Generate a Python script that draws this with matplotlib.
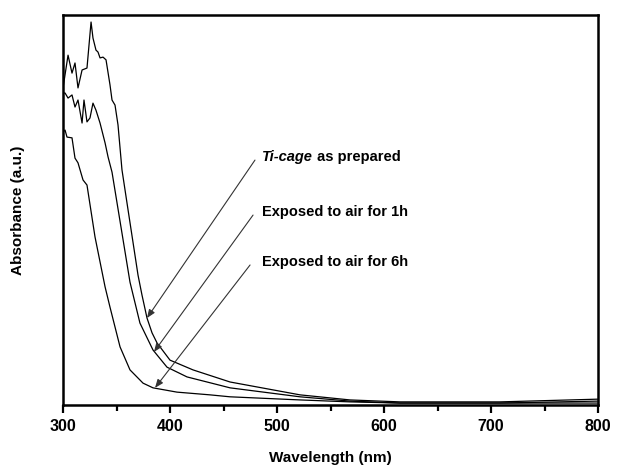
import matplotlib
matplotlib.use("Agg")
import matplotlib.pyplot as plt
from matplotlib.ticker import MultipleLocator

plt.rcParams['font.family'] = ['Liberation Sans', 'DejaVu Sans']
plt.rcParams['font.weight'] = 'bold'

# Ti-cage as prepared
wl_prep = [300.0, 304.7, 308.4, 311.2, 314.0, 317.8, 322.4, 326.2, 328.0, 330.8, 332.7,
           334.6, 337.4, 340.2, 343.9, 345.8, 348.6, 351.4, 355.1, 359.8, 370.1, 373.8,
           378.5, 383.2, 387.9, 400.0, 421.5, 456.1, 521.5, 568.2, 615.0, 708.4, 800.0]
abs_prep = [0.813, 0.897, 0.851, 0.877, 0.813, 0.859, 0.864, 0.982, 0.941, 0.910, 0.905,
            0.890, 0.892, 0.885, 0.821, 0.782, 0.769, 0.718, 0.603, 0.518, 0.333, 0.282,
            0.223, 0.185, 0.159, 0.115, 0.090, 0.059, 0.026, 0.013, 0.008, 0.008, 0.015]

# exposed to air for 1h
wl_1h = [300.0, 301.9, 304.7, 308.4, 311.2, 314.0, 317.8, 319.6, 322.4, 325.2, 328.0,
         330.8, 334.6, 339.3, 342.1, 345.8, 350.5, 362.6, 371.9, 384.1, 397.2, 415.9,
         456.1, 521.5, 568.2, 615.0, 708.4, 800.0]
abs_1h = [0.800, 0.800, 0.787, 0.795, 0.764, 0.782, 0.723, 0.782, 0.726, 0.736, 0.774,
          0.756, 0.723, 0.672, 0.636, 0.597, 0.518, 0.315, 0.210, 0.141, 0.097, 0.072,
          0.044, 0.021, 0.010, 0.005, 0.005, 0.010]

# exposed to air for 6h
wl_6h = [300.0, 301.9, 303.7, 308.4, 311.2, 314.0, 318.7, 322.4, 329.9, 339.3, 343.9,
         353.3, 362.6, 374.8, 384.1, 406.5, 437.4, 456.1, 521.5, 568.2, 615.0, 708.4, 800.0]
abs_6h = [0.700, 0.705, 0.687, 0.685, 0.633, 0.621, 0.577, 0.564, 0.431, 0.303, 0.251,
          0.149, 0.090, 0.056, 0.044, 0.033, 0.026, 0.021, 0.013, 0.008, 0.005, 0.005, 0.005]

fig = plt.figure(figsize=(6.19, 4.66), dpi=100)
ax = fig.add_axes([0.1018, 0.1309, 0.8643, 0.8369])

ax.plot(wl_prep, abs_prep, color='black', lw=0.9)
ax.plot(wl_1h, abs_1h, color='black', lw=0.9)
ax.plot(wl_6h, abs_6h, color='black', lw=0.9)

ax.set_xlim(300, 800)
ax.set_ylim(0, 1)
ax.xaxis.set_major_locator(MultipleLocator(100))
ax.xaxis.set_minor_locator(MultipleLocator(50))
ax.tick_params(axis='x', which='major', direction='out', length=6, width=1.6,
               labelsize=11.5, pad=4)
ax.tick_params(axis='x', which='minor', direction='out', length=4, width=1.6)
ax.set_yticks([])
for s in ax.spines.values():
    s.set_linewidth(1.8)

ax.set_xlabel('Wavelength (nm)', fontsize=11, fontweight='bold', labelpad=12)
ax.set_ylabel('Absorbance (a.u.)', fontsize=11, fontweight='bold')
ax.yaxis.set_label_coords(-0.071, 0.5)

# arrows and labels
arrow_kw = dict(arrowstyle='-|>,head_length=0.5,head_width=0.2', color='#333333', lw=0.8,
                shrinkA=0, shrinkB=0)
ax.annotate('', xy=(378.5, 0.223), xytext=(479.4, 0.628), arrowprops=arrow_kw)
ax.annotate('', xy=(385.0, 0.136), xytext=(477.6, 0.487), arrowprops=arrow_kw)
ax.annotate('', xy=(386.0, 0.044), xytext=(474.8, 0.359), arrowprops=arrow_kw)

t1 = ax.text(486, 0.636, 'Ti-cage', fontsize=10.5, fontweight='bold', style='italic',
             va='center', ha='left')
ax.annotate(' as prepared', xy=(1, 0.5), xycoords=t1, fontsize=10.5, fontweight='bold',
            va='center', ha='left')
ax.text(486, 0.495, 'Exposed to air for 1h', fontsize=10.5, fontweight='bold',
        va='center', ha='left')
ax.text(486, 0.367, 'Exposed to air for 6h', fontsize=10.5, fontweight='bold',
        va='center', ha='left')

fig.savefig('out.png', dpi=100)
